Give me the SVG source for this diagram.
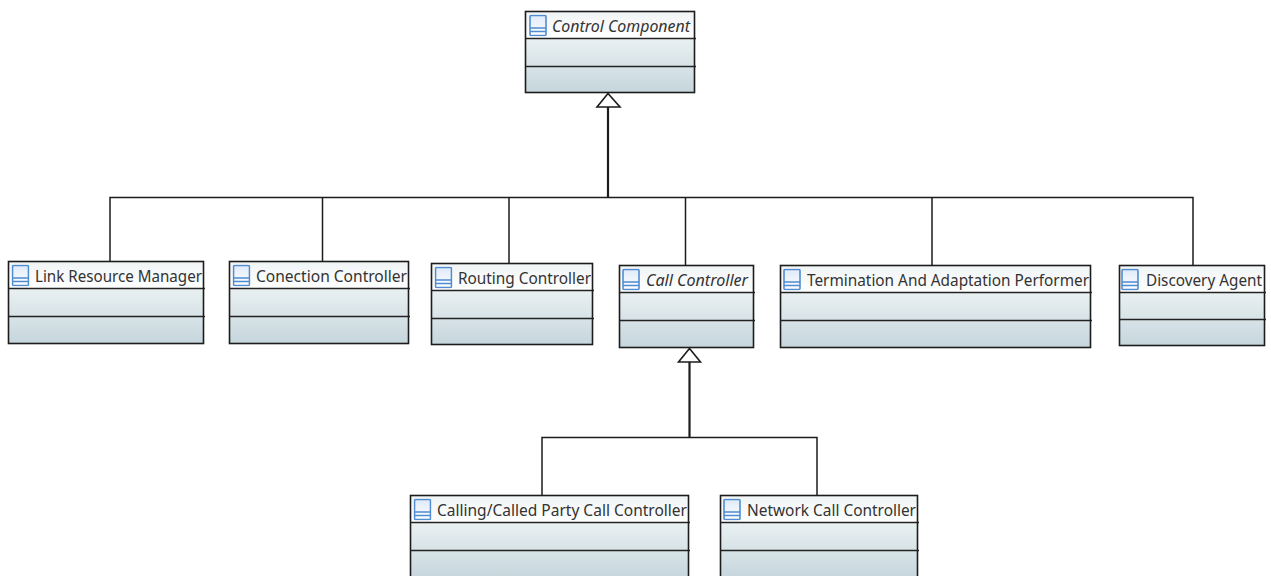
<svg xmlns="http://www.w3.org/2000/svg" width="1271" height="576" viewBox="0 0 1271 576">
<style>
.box{stroke:#1c1c1c;stroke-width:1.6}
.head{fill:url(#hg)}
.body{fill:url(#bg)}
.div{stroke:#222;stroke-width:1.6;fill:none}
.lbl{font-family:"Noto Sans",sans-serif;font-size:15.5px;fill:#333}
.abs{font-style:italic}
.con{fill:none;stroke:#1c1c1c;stroke-width:1.5}
.thick{fill:none;stroke:#1c1c1c;stroke-width:2.2}
.tri{fill:#fff;stroke:#1c1c1c;stroke-width:1.6}
</style>
<defs>
<linearGradient id="hg" x1="0" y1="0" x2="0" y2="1"><stop offset="0" stop-color="#f0f4f5"/><stop offset="1" stop-color="#ffffff"/></linearGradient>
<linearGradient id="bg" x1="0" y1="0" x2="0" y2="1"><stop offset="0" stop-color="#e9f0f1"/><stop offset="1" stop-color="#c6d6dd"/></linearGradient>
<linearGradient id="ig" x1="0" y1="0" x2="0" y2="1"><stop offset="0" stop-color="#dfeafa"/><stop offset="1" stop-color="#ffffff"/></linearGradient>
<symbol id="ic" width="18" height="22" viewBox="0 0 18 22">
<rect x="1" y="1" width="16" height="20" rx="1" fill="url(#ig)" stroke="#4f8cd2" stroke-width="1.6"/>
<path d="M1 13.500H17M1 17H17" stroke="#4f8cd2" stroke-width="1.5" fill="none"/>
</symbol>
</defs>
<g id="connectors">
<path class="con" d="M110 261V197.500H1193V265M322.500 261V197.500M509 263V197.500M685.500 265V197.500M932 265V197.500"/>
<path class="thick" d="M608 106V197.500"/>
<path class="tri" d="M608 93.500L597 107H620Z"/>
<path class="thick" d="M689.500 361V437.500"/>
<path class="con" d="M542 495V437.500H817V495"/>
<path class="tri" d="M689.500 348.500L678.500 362H700.500Z"/>
</g>
<g id="control-component">
<rect class="head" x="525.500" y="11.500" width="169" height="27"/><rect class="body" x="525.500" y="38.500" width="169" height="54"/>
<rect class="box" x="525.500" y="11.500" width="169" height="81" fill="none"/><path class="div" d="M525.500 38.500H696M525.500 66.500H696"/>
<use href="#ic" x="529" y="14.500"/><text class="lbl abs" x="552" y="32" textLength="138" lengthAdjust="spacingAndGlyphs">Control Component</text>
</g>
<g id="link-resource-manager">
<rect class="head" x="8.500" y="261.500" width="195" height="27"/><rect class="body" x="8.500" y="288.500" width="195" height="55"/>
<rect class="box" x="8.500" y="261.500" width="195" height="82" fill="none"/><path class="div" d="M8.500 288.500H205M8.500 316.500H205"/>
<use href="#ic" x="11.500" y="264.500"/><text class="lbl" x="35" y="282" textLength="167" lengthAdjust="spacingAndGlyphs">Link Resource Manager</text>
</g>
<g id="conection-controller">
<rect class="head" x="229.500" y="261.500" width="179" height="27"/><rect class="body" x="229.500" y="288.500" width="179" height="55"/>
<rect class="box" x="229.500" y="261.500" width="179" height="82" fill="none"/><path class="div" d="M229.500 288.500H410M229.500 316.500H410"/>
<use href="#ic" x="232.500" y="264.500"/><text class="lbl" x="256" y="282" textLength="151" lengthAdjust="spacingAndGlyphs">Conection Controller</text>
</g>
<g id="routing-controller">
<rect class="head" x="431.500" y="263.500" width="161" height="27"/><rect class="body" x="431.500" y="290.500" width="161" height="54"/>
<rect class="box" x="431.500" y="263.500" width="161" height="81" fill="none"/><path class="div" d="M431.500 290.500H594M431.500 318.500H594"/>
<use href="#ic" x="434.500" y="266.500"/><text class="lbl" x="458" y="284" textLength="133" lengthAdjust="spacingAndGlyphs">Routing Controller</text>
</g>
<g id="call-controller">
<rect class="head" x="619.500" y="265.500" width="134" height="27"/><rect class="body" x="619.500" y="292.500" width="134" height="55"/>
<rect class="box" x="619.500" y="265.500" width="134" height="82" fill="none"/><path class="div" d="M619.500 292.500H755M619.500 320.500H755"/>
<use href="#ic" x="622" y="268.500"/><text class="lbl abs" x="646" y="286" textLength="102" lengthAdjust="spacingAndGlyphs">Call Controller</text>
</g>
<g id="termination-and-adaptation-performer">
<rect class="head" x="780.500" y="265.500" width="310" height="27"/><rect class="body" x="780.500" y="292.500" width="310" height="55"/>
<rect class="box" x="780.500" y="265.500" width="310" height="82" fill="none"/><path class="div" d="M780.500 292.500H1092M780.500 320.500H1092"/>
<use href="#ic" x="783" y="268.500"/><text class="lbl" x="807" y="286" textLength="282" lengthAdjust="spacingAndGlyphs">Termination And Adaptation Performer</text>
</g>
<g id="discovery-agent">
<rect class="head" x="1119.500" y="265.500" width="145" height="27"/><rect class="body" x="1119.500" y="292.500" width="145" height="53"/>
<rect class="box" x="1119.500" y="265.500" width="145" height="80" fill="none"/><path class="div" d="M1119.500 292.500H1266M1119.500 319.500H1266"/>
<use href="#ic" x="1121" y="268.500"/><text class="lbl" x="1146" y="286" textLength="116" lengthAdjust="spacingAndGlyphs">Discovery Agent</text>
</g>
<g id="calling-called-party-call-controller">
<rect class="head" x="410.500" y="495.500" width="278" height="27"/><rect class="body" x="410.500" y="522.500" width="278" height="56"/>
<rect class="box" x="410.500" y="495.500" width="278" height="84" fill="none"/><path class="div" d="M410.500 522.500H690M410.500 550.500H690"/>
<use href="#ic" x="413.500" y="498.500"/><text class="lbl" x="437" y="516" textLength="250" lengthAdjust="spacingAndGlyphs">Calling/Called Party Call Controller</text>
</g>
<g id="network-call-controller">
<rect class="head" x="720.500" y="495.500" width="197" height="27"/><rect class="body" x="720.500" y="522.500" width="197" height="56"/>
<rect class="box" x="720.500" y="495.500" width="197" height="84" fill="none"/><path class="div" d="M720.500 522.500H919M720.500 550.500H919"/>
<use href="#ic" x="723" y="498.500"/><text class="lbl" x="747" y="516" textLength="169" lengthAdjust="spacingAndGlyphs">Network Call Controller</text>
</g>
</svg>
